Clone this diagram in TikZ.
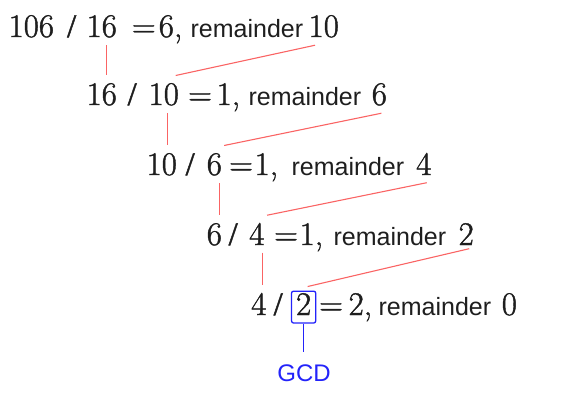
\documentclass[tikz,border=0pt]{standalone}
\usepackage{fontspec}
\newfontfamily\remfont{Liberation Sans}
\newfontfamily\numfont[FakeBold=1.3]{Latin Modern Roman}
\newfontfamily\slashfont[FakeBold=1.3]{Liberation Serif}
\definecolor{connred}{RGB}{250,100,100}
\definecolor{gcdblue}{RGB}{35,35,250}
\definecolor{numcol}{RGB}{30,30,30}
\begin{document}
\begin{tikzpicture}[x=1pt,y=-1pt,
  num/.style={anchor=base west, inner xsep=0pt, inner ysep=7.5pt, text=numcol, font=\numfont\fontsize{33}{40}\selectfont},
  slashsign/.style={anchor=base west, inner sep=0pt, text=numcol, font=\slashfont\fontsize{33}{40}\selectfont},
  rem/.style={anchor=base west, inner sep=0pt, text=numcol, font=\remfont\fontsize{25}{30}\selectfont},
  conn/.style={draw=connred, line width=1.1pt},
  gcdbox/.style={num, draw=gcdblue, line width=1.3pt, rounded corners=2pt, inner xsep=4.5pt, inner ysep=2pt, text depth=6pt},
  gcdline/.style={draw=gcdblue, line width=1.3pt}]
\useasboundingbox (0,0) rectangle (564,402);
% line 1
\node[num] (a1) at (8.4,37) {106};
\node[slashsign] (s1) at (66.9,37) {/};
\node[num] (b1) at (86.4,37) {16};
\node[num] (e1) at (131.7,37) {=};
\node[num] (q1) at (158.6,37) {6,};
\node[rem] (t1) at (190.4,37) {remainder};
\node[num] (r1) at (308.4,37) {10};
% line 2
\node[num] (a2) at (86.4,105) {16};
\node[slashsign] (s2) at (127.4,105) {/};
\node[num] (b2) at (148.4,105) {10};
\node[num] (e2) at (188,105) {=};
\node[num] (q2) at (216.4,105) {1,};
\node[rem] (t2) at (248.4,105) {remainder};
\node[num] (r2) at (371.6,105) {6};
% line 3
\node[num] (a3) at (146.4,175) {10};
\node[slashsign] (s3) at (185.4,175) {/};
\node[num] (b3) at (206.6,175) {6};
\node[num] (e3) at (229,175) {=};
\node[num] (q3) at (254.4,175) {1,};
\node[rem] (t3) at (291.4,175) {remainder};
\node[num] (r3) at (416,175) {4};
% line 4
\node[num] (a4) at (206.6,245) {6};
\node[slashsign] (s4) at (228.4,245) {/};
\node[num] (b4) at (249,245) {4};
\node[num] (e4) at (274,245) {=};
\node[num] (q4) at (299.4,245) {1,};
\node[rem] (t4) at (333.4,245) {remainder};
\node[num] (r4) at (458.4,245) {2};
% line 5
\node[num] (a5) at (251,315) {4};
\node[slashsign] (s5) at (273.4,315) {/};
\node[gcdbox] (b5) at (290.9,315) {2};
\node[num] (e5) at (319,315) {=};
\node[num] (q5) at (348.4,315) {2,};
\node[rem] (t5) at (378.4,315) {remainder};
\node[num] (r5) at (501.6,315) {0};
% GCD label
\node[font=\remfont\fontsize{24}{28}\selectfont, text=gcdblue, inner sep=0pt] (gcd) at (304,373) {GCD};
% vertical connectors
\draw[conn] ([xshift=5pt]b1.south) -- ([xshift=5pt]b1.south |- a2.north);
\draw[conn] ([xshift=4pt]b2.south) -- ([xshift=4pt]b2.south |- a3.north);
\draw[conn] ([xshift=5pt]b3.south) -- ([xshift=5pt]b3.south |- a4.north);
\draw[conn] ([xshift=6pt]b4.south) -- ([xshift=6pt]b4.south |- a5.north);
% slanted connectors
\draw[conn] ([xshift=6.6pt]r1.south west) -- ([xshift=-3.4pt]b2.north east);
\draw[conn] ([xshift=2pt]r2.south) -- ([xshift=2pt]b3.north east);
\draw[conn] ([xshift=3pt]r3.south) -- ([xshift=2.5pt]b4.north east);
\draw[conn] ([xshift=3pt,yshift=4pt]r4.south) -- ([xshift=4pt,yshift=4pt]b5.north);
% GCD connector
\draw[gcdline, shorten >=12pt] (b5.south) -- (b5.south |- gcd.north);
\end{tikzpicture}
\end{document}
